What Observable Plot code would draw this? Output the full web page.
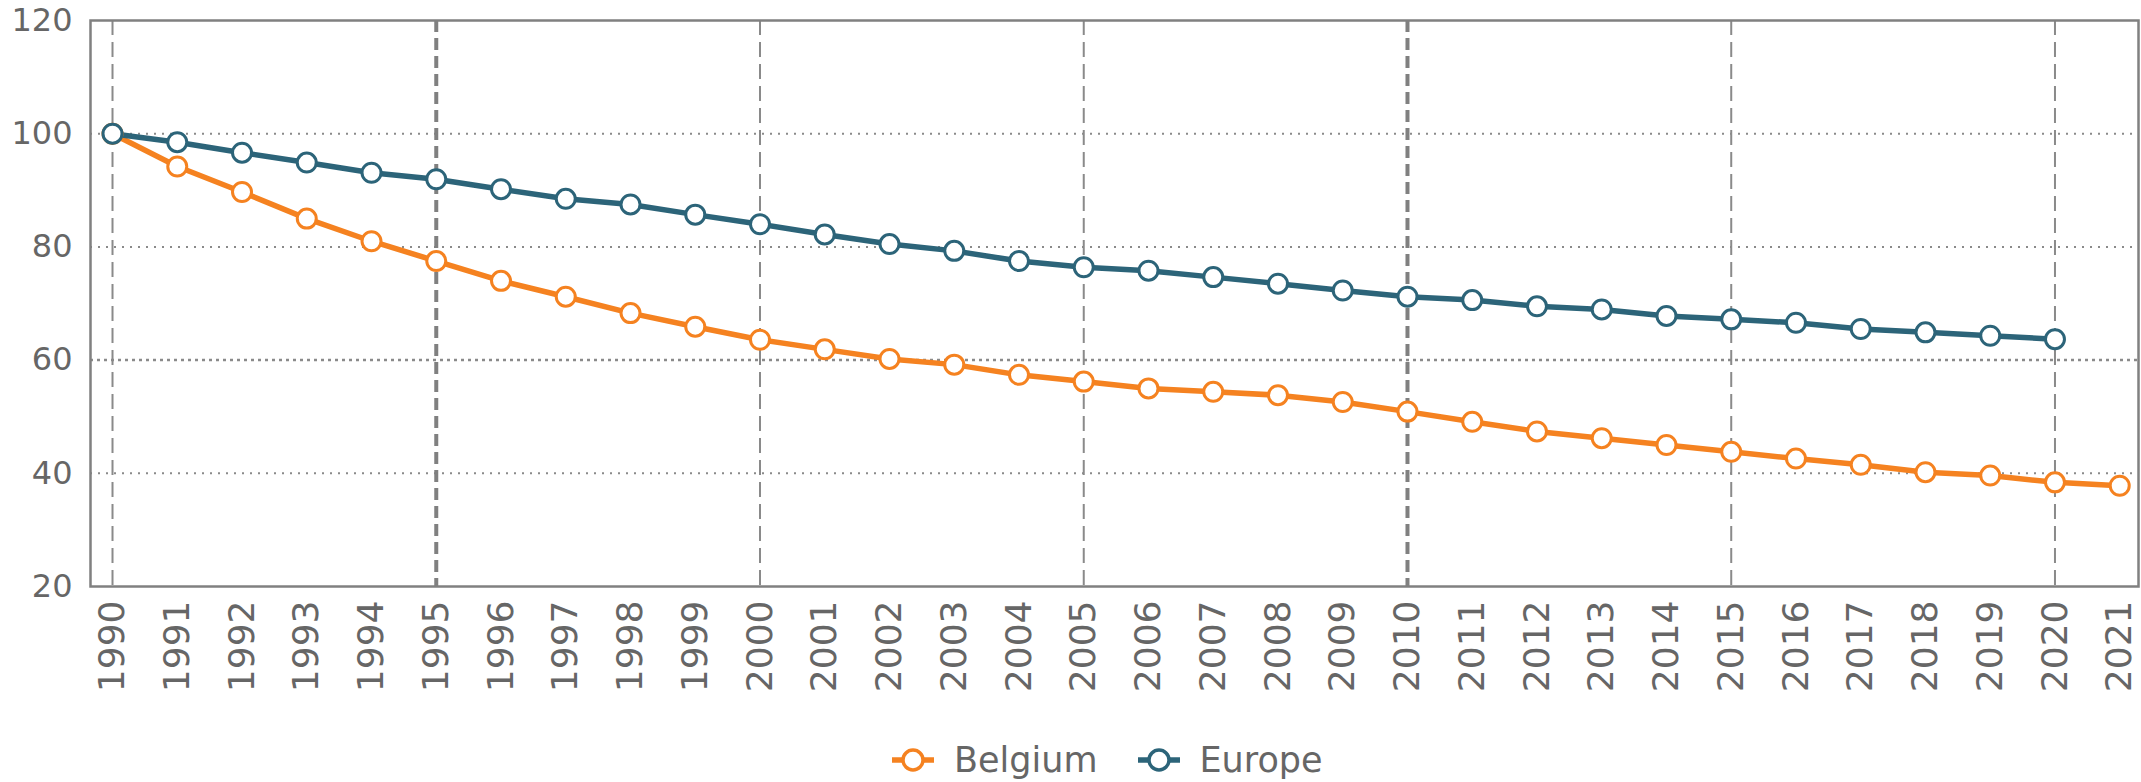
<!DOCTYPE html>
<html>
<head>
<meta charset="utf-8">
<script src="https://cdn.jsdelivr.net/npm/d3@7"></script>
<script src="https://cdn.jsdelivr.net/npm/@observablehq/plot@0.6"></script>
<style>
  html, body { margin: 0; padding: 0; background: #fff; }
  #wrap { position: relative; width: 2141px; height: 782px; font-family: "DejaVu Sans", Verdana, sans-serif; }
  #legend { position: absolute; left: 892px; top: 734px; height: 52px; display: flex; align-items: center; gap: 40px; color: #666; font-size: 35px; }
  .item { display: flex; align-items: center; gap: 20px; }
</style>
</head>
<body>
<div id="wrap"><div id="chart"></div><div id="legend"></div></div>
<script>
const years = [1990,1991,1992,1993,1994,1995,1996,1997,1998,1999,2000,2001,2002,2003,2004,2005,2006,2007,2008,2009,2010,2011,2012,2013,2014,2015,2016,2017,2018,2019,2020,2021];
const belgium = [100,94.2,89.7,85.0,81.0,77.5,74.0,71.2,68.3,65.9,63.6,61.9,60.2,59.2,57.4,56.2,55.0,54.4,53.8,52.6,50.9,49.1,47.4,46.2,45.0,43.8,42.6,41.5,40.2,39.6,38.4,37.8];
const europe = [100,98.5,96.65,94.9,93.1,91.95,90.2,88.5,87.5,85.7,84.0,82.2,80.5,79.3,77.5,76.4,75.8,74.66,73.5,72.3,71.2,70.6,69.5,68.95,67.8,67.2,66.6,65.5,64.9,64.3,63.7];
const seriesNames = ["Belgium", "Europe"];
const seriesColors = ["#f58220", "#2c6479"];
const yTicks = [20,40,60,80,100,120];
const yGrid = [40,60,80,100];
const xGridThin = [1990,2000,2005,2015,2020];
const xGridThick = [1995,2010];

const rows = [];
years.forEach((y, i) => { if (belgium[i] != null) rows.push({year: y, value: belgium[i], series: "Belgium"}); });
years.forEach((y, i) => { if (europe[i] != null) rows.push({year: y, value: europe[i], series: "Europe"}); });

const font = "DejaVu Sans, Verdana, sans-serif";
const chart = Plot.plot({
  width: 2141,
  height: 712,
  marginTop: 20,
  marginBottom: 126,
  marginLeft: 90,
  marginRight: 3,
  style: {fontFamily: font, fontSize: "33px", color: "#666", background: "#fff"},
  x: {type: "linear", domain: [1989.66, 2021.29]},
  y: {domain: [20, 120]},
  color: {domain: seriesNames, range: seriesColors},
  marks: [
    Plot.ruleY(yGrid.filter(d => d !== 60), {y: d => d, stroke: "#8a8a8a", strokeWidth: 2, strokeDasharray: "2,6"}),
    Plot.ruleY([60], {y: d => d, stroke: "#8a8a8a", strokeWidth: 2.5, strokeDasharray: "3,4"}),
    Plot.ruleX(xGridThin, {x: d => d, stroke: "#8a8a8a", strokeWidth: 2, strokeDasharray: "15,7"}),
    Plot.ruleX(xGridThick, {x: d => d, stroke: "#808080", strokeWidth: 4, strokeDasharray: "12,6"}),
    Plot.frame({stroke: "#808080", strokeWidth: 2.5}),
    Plot.axisY({ticks: yTicks, tickSize: 0, tickPadding: 18, fontSize: 32, fill: "#666", label: null}),
    Plot.axisX({ticks: years, tickFormat: d => String(d), tickSize: 0, tickPadding: 14, tickRotate: -90, fontSize: 36, fill: "#666", label: null}),
    Plot.line(rows, {x: "year", y: "value", z: "series", stroke: "series", strokeWidth: 5.5}),
    Plot.dot(rows, {x: "year", y: "value", stroke: "series", fill: "white", r: 9.5, strokeWidth: 3})
  ]
});
document.getElementById("chart").appendChild(chart);

const legend = document.getElementById("legend");
seriesNames.forEach((name, i) => {
  const item = document.createElement("div");
  item.className = "item";
  item.innerHTML = `<svg width="42" height="28"><line x1="0" y1="14" x2="42" y2="14" stroke="${seriesColors[i]}" stroke-width="5.5"/><circle cx="21" cy="14" r="10" fill="white" stroke="${seriesColors[i]}" stroke-width="3.5"/></svg><span>${name}</span>`;
  legend.appendChild(item);
});
</script>
</body>
</html>
